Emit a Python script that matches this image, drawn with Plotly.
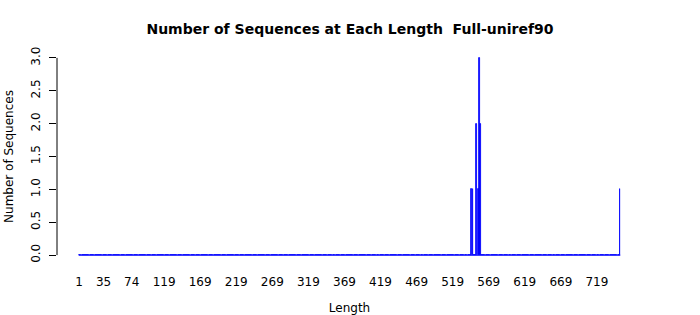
import plotly.graph_objects as go

max_length = 751
lengths = list(range(1, max_length + 1))
nonzero_lengths = [545, 547, 552, 555, 556, 558, 751]
nonzero_counts = [1, 1, 2, 1, 3, 2, 1]
count_map = dict(zip(nonzero_lengths, nonzero_counts))
counts = [count_map.get(L, 0) for L in lengths]

x_tick_vals = [1, 35, 74, 119, 169, 219, 269, 319, 369, 419, 469, 519, 569, 619, 669, 719]
y_tick_vals = [0, 0.5, 1.0, 1.5, 2.0, 2.5, 3.0]
y_tick_text = ["0.0", "0.5", "1.0", "1.5", "2.0", "2.5", "3.0"]

FONT = "DejaVu Sans"

fig = go.Figure()
# zero-height bars (drawn as baseline borders, as in R barplot)
fig.add_trace(go.Scatter(
    x=[lengths[0] - 0.42, lengths[-1] + 0.42], y=[0, 0], mode="lines",
    line=dict(color="blue", width=1.2), hoverinfo="skip", showlegend=False))
fig.add_trace(go.Bar(
    x=lengths, y=counts, width=0.83,
    marker=dict(color="blue", line=dict(color="blue", width=0.8)),
    showlegend=False))

fig.update_layout(
    width=700, height=315,
    margin=dict(l=57, r=58, t=50, b=52, autoexpand=False),
    paper_bgcolor="white", plot_bgcolor="white",
    font=dict(family=FONT, size=12, color="black"),
    title=dict(text="<b>Number of Sequences at Each Length  Full-uniref90</b>",
               x=0.5, xanchor="center", y=0.908, yanchor="middle",
               font=dict(family=FONT, size=14, color="black")),
    bargap=0,
)
fig.update_xaxes(
    range=[-29.5, 781.5], showgrid=False, zeroline=False, showline=False,
    automargin=False,
    tickmode="array", tickvals=x_tick_vals, ticktext=[str(v) for v in x_tick_vals],
    ticks="outside", ticklen=8, tickcolor="rgba(0,0,0,0)",
    tickfont=dict(family=FONT, size=12),
    title=dict(text="Length", font=dict(family=FONT, size=12), standoff=15),
)
fig.update_yaxes(
    range=[-0.12, 3.12], showgrid=False, zeroline=False, showline=False,
    automargin=False,
    tickmode="array", tickvals=y_tick_vals, ticktext=y_tick_text,
    ticks="outside", ticklen=7, tickcolor="black", tickwidth=1,
    ticklabelstandoff=4,
    tickangle=-90, tickfont=dict(family=FONT, size=12),
    title=dict(text="Number of Sequences", font=dict(family=FONT, size=12), standoff=13),
)
# y axis line spanning tick range only (R style)
fig.add_shape(type="line", xref="paper", yref="y", x0=0, x1=0,
              y0=y_tick_vals[0], y1=y_tick_vals[-1],
              line=dict(color="black", width=1))

fig.write_html("out.html")
